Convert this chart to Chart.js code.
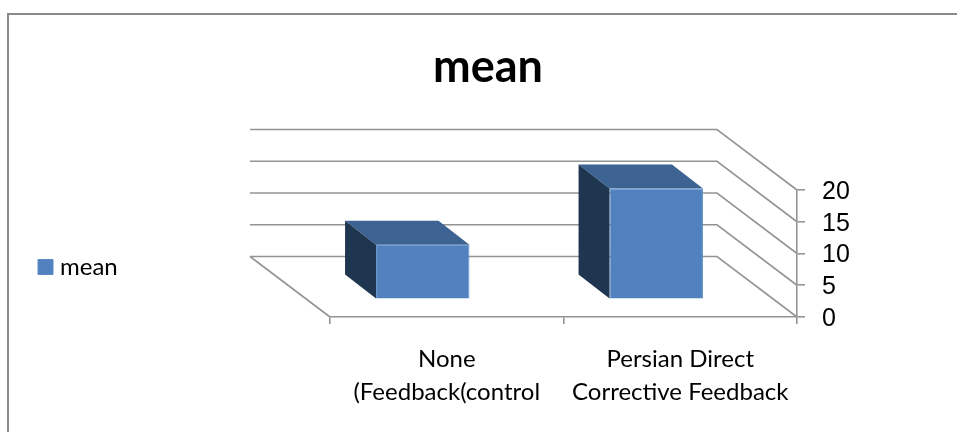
<!DOCTYPE html>
<html>
<head>
<meta charset="utf-8">
<title>mean</title>
<script src="https://cdn.jsdelivr.net/npm/chart.js@4/dist/chart.umd.min.js"></script>
<style>
  html, body { margin: 0; padding: 0; background: #fff; overflow: hidden; }
  #frame { position: absolute; left: 7px; top: 13px; right: -5px; bottom: -5px; border-top: 2px solid #8a8a8a; border-left: 2px solid #8a8a8a; }
  #wrap { position: absolute; left: 0; top: 0; width: 957px; height: 432px; }
</style>
</head>
<body>
<div id="frame"></div>
<div id="wrap"><canvas id="chart"></canvas></div>
<script>
const categories = [["None", "(Feedback(control"], ["Persian Direct", "Corrective Feedback"]];
const seriesName = "mean";
const meanValues = [8.6, 17.45];
const yTicks = [0, 5, 10, 15, 20];

const GRID = "#949494";
const FLOOR_DX = -80, FLOOR_DY = -60.5;   // depth of the whole floor
const BAR_DX = -24, BAR_DY = -17.7;       // where the bar front sits on the floor
const DEPTH_DX = -31, DEPTH_DY = -24;     // depth of one bar

const fake3d = {
  id: "fake3d",
  beforeLayout(chart) {
    // legend sits in a wide left column so the plot starts at x=330
    const legend = chart.legend;
    if (!legend._wideFit) {
      const fit = legend.fit;
      legend.fit = function () {
        fit.call(this);
        this.width = 311;
      };
      legend._wideFit = true;
    }
  },
  afterLayout(chart) {
    chart.legend.top += 51;
    chart.legend.bottom += 51;
  },
  beforeDatasetsDraw(chart) {
    const { ctx, chartArea: a, scales: { y } } = chart;
    ctx.save();
    ctx.strokeStyle = GRID;
    ctx.lineWidth = 1.6;
    yTicks.forEach((v) => {
      const py = y.getPixelForValue(v);
      ctx.beginPath();
      ctx.moveTo(a.left + FLOOR_DX, py + FLOOR_DY);
      ctx.lineTo(a.right + FLOOR_DX, py + FLOOR_DY);
      ctx.lineTo(a.right, py);
      ctx.stroke();
    });
    // left edge of the floor
    const y0 = y.getPixelForValue(0);
    ctx.beginPath();
    ctx.moveTo(a.left + FLOOR_DX, y0 + FLOOR_DY);
    ctx.lineTo(a.left, y0);
    ctx.stroke();

    // top and side faces of the bars
    chart.getDatasetMeta(0).data.forEach((bar) => {
      const l = bar.x - bar.width / 2 + BAR_DX;
      const r = bar.x + bar.width / 2 + BAR_DX;
      const t = bar.y + BAR_DY;
      const b = bar.base + BAR_DY;
      ctx.fillStyle = "#3c6391";
      ctx.beginPath();
      ctx.moveTo(l, t);
      ctx.lineTo(l + DEPTH_DX, t + DEPTH_DY);
      ctx.lineTo(r + DEPTH_DX, t + DEPTH_DY);
      ctx.lineTo(r, t);
      ctx.closePath();
      ctx.fill();
      ctx.fillStyle = "#1f3650";
      ctx.beginPath();
      ctx.moveTo(l, t);
      ctx.lineTo(l + DEPTH_DX, t + DEPTH_DY);
      ctx.lineTo(l + DEPTH_DX, b + DEPTH_DY);
      ctx.lineTo(l, b);
      ctx.closePath();
      ctx.fill();
    });
    ctx.restore();
  },
  beforeDatasetDraw(chart) {
    chart.ctx.save();
    chart.ctx.translate(BAR_DX, BAR_DY);
  },
  afterDatasetDraw(chart) {
    chart.ctx.restore();
  },
};

new Chart(document.getElementById("chart"), {
  type: "bar",
  data: {
    labels: categories,
    datasets: [{
      label: seriesName,
      data: meanValues,
      backgroundColor: "#5182bf",
      borderColor: "#5a8ac6",
      borderWidth: 1,
      barPercentage: 0.4,
      categoryPercentage: 1,
    }],
  },
  options: {
    responsive: true,
    maintainAspectRatio: false,
    animation: false,
    layout: { padding: { left: 19, top: 0, right: 0, bottom: 0 } },
    plugins: {
      title: {
        display: true,
        text: seriesName,
        color: "#000",
        font: { family: "Lato", size: 45, weight: "bold" },
        padding: { top: 40, bottom: 96 },
      },
      legend: {
        position: "left",
        labels: {
          usePointStyle: true,
          pointStyle: "rect",
          boxWidth: 5,
          boxHeight: 15,
          padding: 24,
          color: "#000",
          font: { family: "Lato", size: 24 },
        },
      },
      tooltip: { enabled: false },
    },
    scales: {
      x: {
        afterFit(scale) { scale.height = 115; },
        grid: { color: GRID, lineWidth: 1.6, drawOnChartArea: false, tickLength: 7 },
        border: { color: GRID, width: 1.6 },
        ticks: { color: "#000", maxRotation: 0, autoSkip: false, padding: 19, font: { family: "Lato", size: 24, lineHeight: 1.37 } },
      },
      y: {
        position: "right",
        min: 0,
        max: 20,
        afterFit(scale) { scale.width = 160; },
        afterBuildTicks(scale) { scale.ticks = yTicks.map((v) => ({ value: v })); },
        grid: { color: GRID, lineWidth: 1.6, drawOnChartArea: false, tickLength: 8 },
        border: { color: GRID, width: 1.6 },
        ticks: { color: "#000", autoSkip: false, padding: 17, labelOffset: 2, font: { family: "Liberation Sans", size: 25 } },
      },
    },
  },
  plugins: [fake3d],
});
</script>
</body>
</html>
